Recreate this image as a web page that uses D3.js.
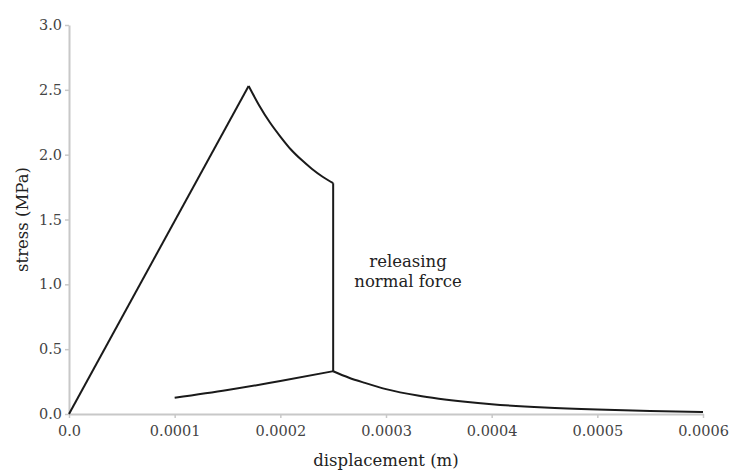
<!DOCTYPE html>
<html>
<head>
<meta charset="utf-8">
<script src="https://cdn.jsdelivr.net/npm/d3@7"></script>
<style>
  body { margin: 0; background: #fff; }
  text { font-family: "DejaVu Serif", "Liberation Serif", serif; }
</style>
</head>
<body>
<script>
var width = 729,
    height = 470;

/* ============================ DATA ============================ */
// loading branch (elastic rise to the peak)
var loadX = [0, 0.00017],
    loadY = [0, 2.53];

// softening after the peak
var softX = [0.00017, 0.00018, 0.00019, 0.0002, 0.00021, 0.00022, 0.00023, 0.00024, 0.00025],
    softY = [2.53, 2.38, 2.25, 2.14, 2.04, 1.96, 1.89, 1.83, 1.78];

// releasing normal force (vertical drop)
var releaseX = [0.00025, 0.00025],
    releaseY = [1.78, 0.33];

// lower branch, before and after the release point
var lowX = [0.0001, 0.00015, 0.0002, 0.00025],
    lowY = [0.125, 0.185, 0.254, 0.33];

var decayX = [0.00025, 0.000265, 0.00028, 0.0003, 0.00033, 0.00035, 0.000375, 0.0004, 0.00045, 0.0005, 0.00055, 0.0006],
    decayY = [0.33, 0.28, 0.24, 0.192, 0.142, 0.118, 0.094, 0.075, 0.05, 0.034, 0.023, 0.015];

var xTicks = [0, 0.0001, 0.0002, 0.0003, 0.0004, 0.0005, 0.0006],
    xTickLabels = ["0.0", "0.0001", "0.0002", "0.0003", "0.0004", "0.0005", "0.0006"],
    yTicks = [0, 0.5, 1, 1.5, 2, 2.5, 3];

/* ============================ SCALES ============================ */
var x = d3.scaleLinear().domain([0, 0.0006]).range([69, 703]),
    y = d3.scaleLinear().domain([0, 3]).range([414, 25]);

var svg = d3.select('body').append('svg')
    .attr('width', width)
    .attr('height', height);

/* ============================ AXES ============================ */
var xAxis = svg.append('g')
    .attr('transform', 'translate(0,' + y(0) + ')')
    .call(d3.axisBottom(x).tickValues(xTicks)
      .tickFormat(function(d, i) { return xTickLabels[i]; })
      .tickSizeInner(4).tickSizeOuter(0).tickPadding(8));

var yAxis = svg.append('g')
    .attr('transform', 'translate(' + x(0) + ',0)')
    .call(d3.axisLeft(y).tickValues(yTicks)
      .tickFormat(d3.format('.1f'))
      .tickSizeInner(4).tickSizeOuter(0).tickPadding(3));

[xAxis, yAxis].forEach(function(a) {
  a.select('.domain').attr('stroke', '#c8c8c8').attr('stroke-width', 2);
  a.selectAll('.tick line').attr('stroke', '#c8c8c8').attr('stroke-width', 1.5);
  a.selectAll('.tick text')
      .attr('fill', '#444')
      .style('font-family', '"DejaVu Serif", serif')
      .style('font-size', '14.5px');
});

svg.append('text')
    .attr('x', 386)
    .attr('y', 466)
    .attr('text-anchor', 'middle')
    .attr('fill', '#222')
    .style('font-size', '16.5px')
    .text('displacement (m)');

svg.append('text')
    .attr('transform', 'translate(28,' + ((y(0) + y(3)) / 2) + ') rotate(-90)')
    .attr('text-anchor', 'middle')
    .attr('fill', '#222')
    .style('font-size', '16.5px')
    .text('stress (MPa)');

/* ============================ CURVES ============================ */
function pts(xs, ys) {
  return xs.map(function(d, i) { return [d, ys[i]]; });
}

var straight = d3.line()
    .x(function(d) { return x(d[0]); })
    .y(function(d) { return y(d[1]); });

var smooth = d3.line()
    .curve(d3.curveMonotoneX)
    .x(function(d) { return x(d[0]); })
    .y(function(d) { return y(d[1]); });

var segs = [
  [straight, pts(loadX, loadY)],
  [smooth, pts(softX, softY)],
  [straight, pts(releaseX, releaseY)],
  [smooth, pts(lowX, lowY)],
  [smooth, pts(decayX, decayY)]
];

svg.selectAll('.curve')
    .data(segs)
  .enter().append('path')
    .attr('class', 'curve')
    .attr('d', function(d) { return d[0](d[1]); })
    .attr('fill', 'none')
    .attr('stroke', '#1a1a1a')
    .attr('stroke-width', 2)
    .attr('stroke-linejoin', 'miter');

/* ============================ ANNOTATION ============================ */
var note = svg.append('text')
    .attr('text-anchor', 'middle')
    .attr('fill', '#222')
    .style('font-size', '16.5px');

note.append('tspan').attr('x', 408).attr('y', 267).text('releasing');
note.append('tspan').attr('x', 408).attr('y', 287).text('normal force');
</script>
</body>
</html>
